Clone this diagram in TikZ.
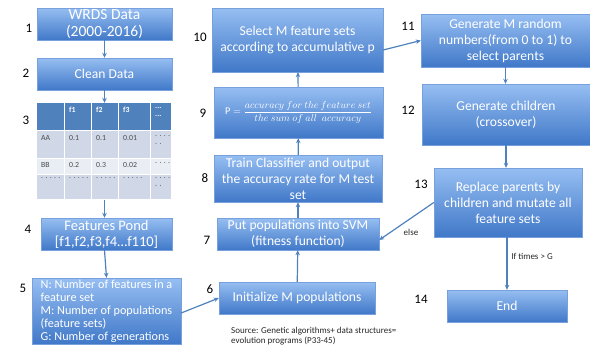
\documentclass[tikz,border=0pt]{standalone}
\usepackage{fontspec}
\setmainfont{Carlito}
\usetikzlibrary{arrows.meta,shadows}

\definecolor{boxtop}{RGB}{150,190,242}
\definecolor{boxbot}{RGB}{64,120,200}
\definecolor{boxline}{RGB}{120,160,220}
\definecolor{flowblue}{RGB}{79,129,189}
\definecolor{thead}{RGB}{79,129,189}
\definecolor{trowa}{RGB}{208,216,232}
\definecolor{trowb}{RGB}{233,237,244}

\tikzset{
  stepbox/.style={draw=boxline, line width=0.4pt, top color=boxtop, bottom color=boxbot,
    text=white, inner sep=0pt, align=center, font=\fontsize{13.6}{16}\selectfont,
    drop shadow={opacity=0.25, shadow xshift=1pt, shadow yshift=-1.2pt}},
  num/.style={font=\fontsize{13}{15}\selectfont, inner sep=0pt},
  flow/.style={draw=flowblue, line width=1.2pt, -{Stealth[length=5pt,width=4.5pt]}},
  cell/.style={anchor=north west, inner sep=0pt, text=black!70, font=\fontsize{7.8}{8.5}\selectfont, align=left},
  note/.style={font=\fontsize{9}{11}\selectfont, inner sep=0pt, text=black!85}
}

\begin{document}
\begin{tikzpicture}[x=1pt,y=-1pt] % GA feature selection flow
\useasboundingbox (0,0) rectangle (590,349);

% left column
\node[stepbox, minimum width=135, minimum height=32, font=\fontsize{15.5}{17}\selectfont] (b1) at (104.5,24) {WRDS Data\\(2000-2016)};
\node[stepbox, minimum width=135, minimum height=32] (b2) at (104.5,74) {Clean Data};

% data table
\def\xs{{37,65,92,119,151,172}}
\def\ys{{103,131,159,175,200}}
\foreach \r/\rc in {0/thead,1/trowa,2/trowb,3/trowa}
  \foreach \c in {0,...,4} {
    \pgfmathsetmacro{\xa}{\xs[\c]}
    \pgfmathsetmacro{\xb}{\xs[\c+1]-1.5}
    \pgfmathsetmacro{\ya}{\ys[\r]}
    \pgfmathsetmacro{\yb}{\ys[\r+1]-1.5}
    \fill[\rc] (\xa,\ya) rectangle (\xb,\yb);
  }
\node[inner sep=0pt, minimum width=135, minimum height=97] (tbl) at (104.5,151.5) {};
\node[cell, text=white] (h1) at (69,107) {\bfseries f1};
\node[cell, text=white] (h2) at (96,107) {\bfseries f2};
\node[cell, text=white] (h3) at (123,107) {\bfseries f3};
\node[cell, text=white] (h4) at (155,107) {\bfseries ...\\\bfseries ...};
\node[cell] (a0) at (41,135) {AA};
\node[cell] (a1) at (69,135) {0.1};
\node[cell] (a2) at (96,135) {0.1};
\node[cell] (a3) at (123,135) {0.01};
\node[cell] (a4) at (155,135) {. . . .\\. .};
\node[cell] (bb0) at (41,162) {BB};
\node[cell] (bb1) at (69,162) {0.2};
\node[cell] (bb2) at (96,162) {0.3};
\node[cell] (bb3) at (123,162) {0.02};
\node[cell] (bb4) at (155,162) {. . . .};
\node[cell] (d0) at (41,177) {. . . . .};
\node[cell] (d1) at (69,177) {. . . . .};
\node[cell] (d2) at (96,177) {. . . . .};
\node[cell] (d3) at (123,177) {. . . . .};
\node[cell] (d4) at (155,177) {. . . .\\. .};

\node[stepbox, minimum width=131, minimum height=32, font=\fontsize{14.5}{16}\selectfont] (b4) at (106.5,234) {Features Pond\\{}[f1,f2,f3,f4…f110]};
\node[stepbox, minimum width=149, minimum height=66, align=left, font=\fontsize{12.2}{13}\selectfont] (b5) at (106.5,311)
  {N: Number of features in a\\feature set\\M: Number of populations\\(feature sets)\\G: Number of generations};

% middle column
\node[stepbox, minimum width=156, minimum height=32] (b6) at (297,298) {Initialize M populations};
\node[stepbox, minimum width=162, minimum height=32] (b7) at (298,234) {Put populations into SVM\\(fitness function)};
\node[stepbox, minimum width=168, minimum height=47] (b8) at (298,178.5) {Train Classifier and output\\the accuracy rate for M test\\set};
\node[stepbox, minimum width=169, minimum height=51] (b9) at (298.5,112.5)
  {\fontsize{10.3}{11}\selectfont$\mathrm{P}=\displaystyle\frac{accuracy\ for\ the\ feature\ set}{the\ sum\ of\ all\ \ accuracy}$};
\node[stepbox, minimum width=171, minimum height=64] (b10) at (297.5,40) {Select M feature sets\\according to accumulative p};

% right column
\node[stepbox, minimum width=169, minimum height=53] (b11) at (505.5,40.5) {Generate M random\\numbers(from 0 to 1) to\\select parents};
\node[stepbox, minimum width=168, minimum height=61] (b12) at (506,114.5) {Generate children\\(crossover)};
\node[stepbox, minimum width=148, minimum height=69] (b13) at (508,202.5) {Replace parents by\\children and mutate all\\feature sets};
\node[stepbox, minimum width=120, minimum height=32] (b14) at (507,306) {End};

% step numbers
\node[num] (n1) at (29,28) {1};
\node[num] (n2) at (26,73) {2};
\node[num] (n3) at (26,120) {3};
\node[num] (n4) at (28,229) {4};
\node[num] (n5) at (23,288) {5};
\node[num] (n6) at (210,289) {6};
\node[num] (n7) at (207,240) {7};
\node[num] (n8) at (205,178) {8};
\node[num] (n9) at (203,113) {9};
\node[num] (n10) at (200,37) {10};
\node[num] (n11) at (408,26) {11};
\node[num] (n12) at (408,110) {12};
\node[num] (n13) at (421,184) {13};
\node[num] (n14) at (421,299) {14};

% connectors
\draw[flow] (b1) -- (b2);
\draw[flow] (b2) -- (tbl);
\draw[flow] (tbl.south) -- (tbl.south |- b4.north);
\draw[flow] ([xshift=-2pt]b4.south) -- (b5.north);
\draw[flow] ([yshift=-2pt]b5.east) -- (b6.west);
\draw[flow] (b6) -- (b7);
\draw[flow] (b7) -- (b8);
\draw[flow] (b8) -- (b9);
\draw[flow] (b9) -- (b10);
\draw[flow] ([yshift=-10pt]b10.east) -- (b11.west);
\draw[flow] (b11.south) -- (b11.south |- b12.north);
\draw[flow] (b12.south) -- (b12.south |- b13.north);
\draw[flow] (b13.south -| b14.north) -- (b14.north);
\draw[flow] (b13.west) -- ([yshift=-6pt]b7.east);

\node[note] (lelse) at (411,232) {else};
\node[note] (ltimes) at (532,256) {If times > G};
\node[note, anchor=north west, align=left, font=\fontsize{9}{10.5}\selectfont] (src) at (231,327)
  {Source: Genetic algorithms+ data structures=\\evolution programs (P33-45)};
\end{tikzpicture}
\end{document}
